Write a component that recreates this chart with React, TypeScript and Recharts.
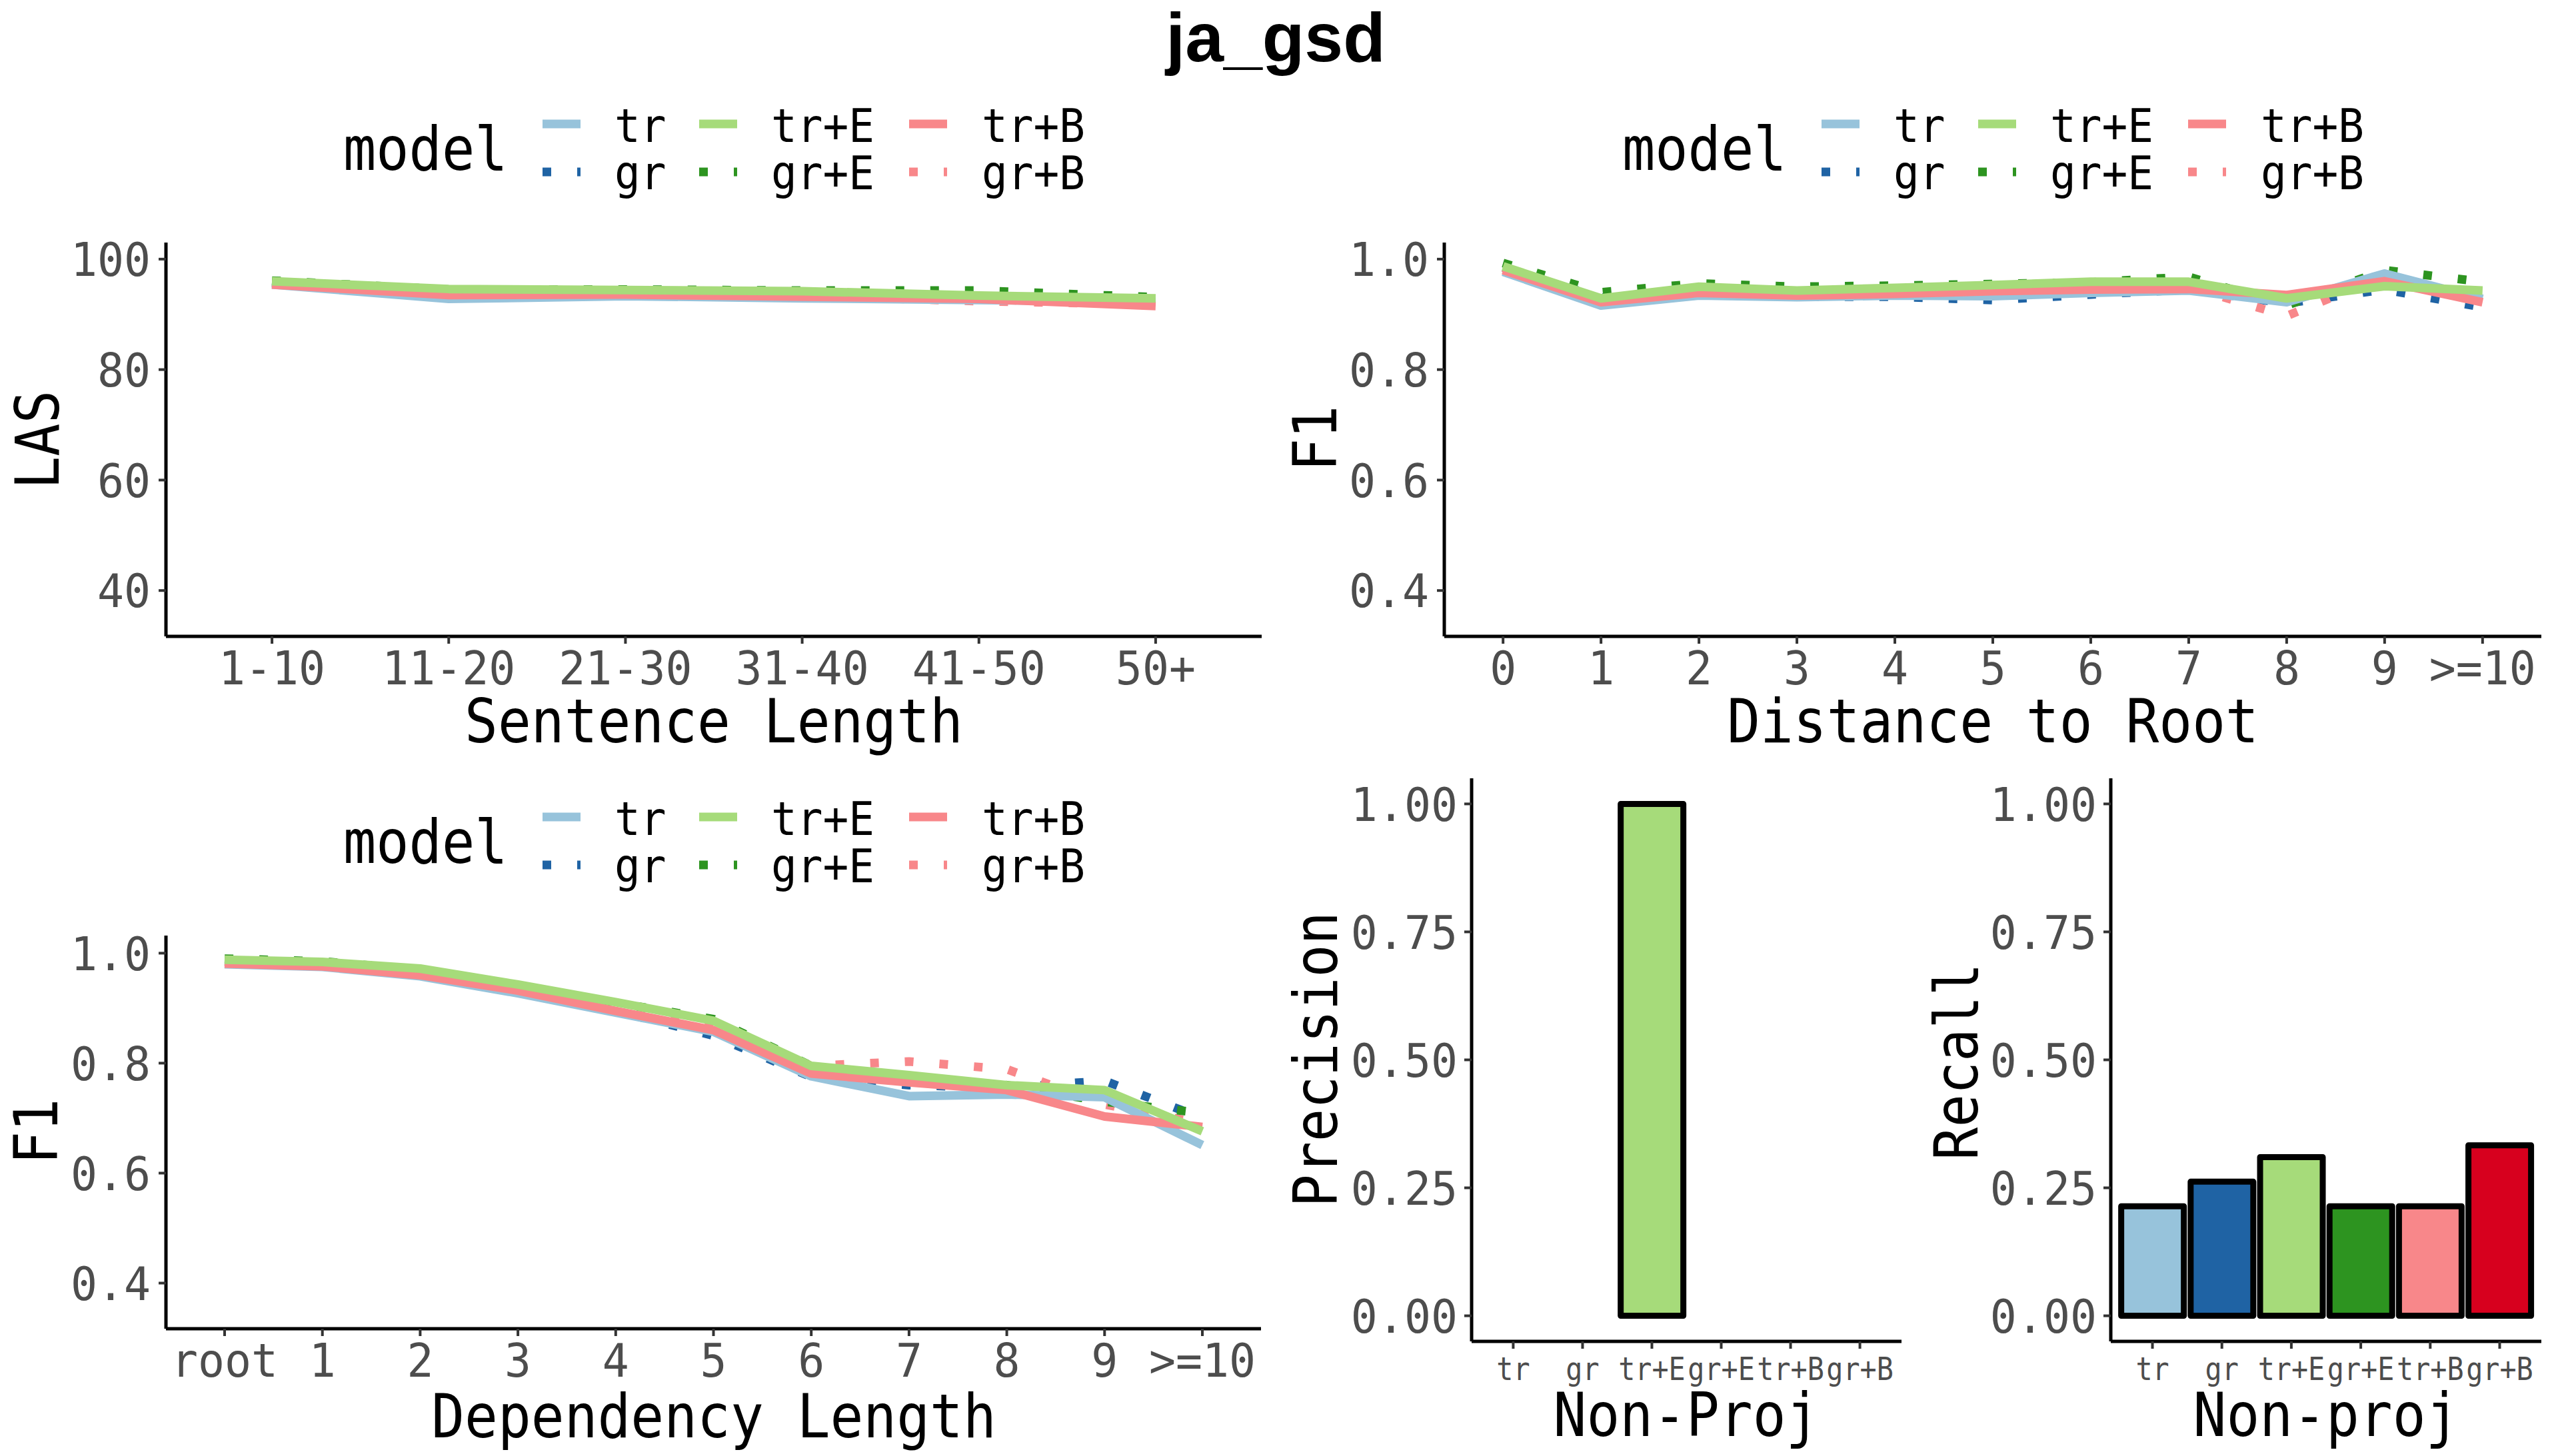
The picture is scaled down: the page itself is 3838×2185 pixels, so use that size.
import React from "react";
import { LineChart, Line, XAxis, YAxis, BarChart, Bar, Cell } from "recharts";

const MONO = "'DejaVu Sans Mono', monospace";

const models = ["tr", "gr", "tr+E", "gr+E", "tr+B", "gr+B"];
const lineColors = ["#97C3DB", "#1F63A4", "#A6DB7A", "#2D9420", "#F8878A", "#F8878A"];
const barColors = ["#97C3DB", "#1F63A4", "#A6DB7A", "#2D9420", "#F8878A", "#D7001E"];
const dotted = [false, true, false, true, false, true];
// groups are drawn alphabetically: gr, gr+B, gr+E, tr, tr+B, tr+E
const drawOrder = [1, 5, 3, 0, 4, 2];

// sentence length / LAS
const sentCats = ["1-10", "11-20", "21-30", "31-40", "41-50", "50+"];
const sentTr = [95.4, 92.8, 93.3, 92.9, 92.6, 92.3];
const sentGr = [95.8, 93.4, 93.6, 93.4, 93.0, 92.6];
const sentTrE = [96.0, 94.6, 94.4, 94.2, 93.4, 92.9];
const sentGrE = [96.1, 94.5, 94.5, 94.3, 94.3, 93.1];
const sentTrB = [95.4, 93.5, 93.6, 93.2, 92.8, 91.5];
const sentGrB = [95.6, 93.8, 93.8, 93.3, 92.4, 91.8];

// distance to root / F1
const rootCats = ["0", "1", "2", "3", "4", "5", "6", "7", "8", "9", ">=10"];
const rootTr = [0.977, 0.916, 0.934, 0.931, 0.934, 0.933, 0.939, 0.943, 0.922, 0.974, 0.928];
const rootGr = [0.985, 0.930, 0.940, 0.932, 0.932, 0.926, 0.936, 0.945, 0.920, 0.945, 0.913];
const rootTrE = [0.987, 0.929, 0.950, 0.943, 0.948, 0.953, 0.959, 0.959, 0.929, 0.951, 0.943];
const rootGrE = [0.993, 0.940, 0.956, 0.950, 0.952, 0.955, 0.958, 0.968, 0.916, 0.980, 0.959];
const rootTrB = [0.980, 0.922, 0.939, 0.934, 0.937, 0.942, 0.945, 0.946, 0.935, 0.960, 0.922];
const rootGrB = [0.985, 0.925, 0.945, 0.938, 0.940, 0.944, 0.946, 0.950, 0.897, 0.970, 0.925];

// dependency length / F1
const depCats = ["root", "1", "2", "3", "4", "5", "6", "7", "8", "9", ">=10"];
const depTr = [0.980, 0.975, 0.958, 0.927, 0.892, 0.857, 0.776, 0.740, 0.743, 0.738, 0.651];
const depGr = [0.985, 0.980, 0.962, 0.930, 0.895, 0.850, 0.775, 0.760, 0.755, 0.768, 0.700];
const depTrE = [0.988, 0.984, 0.972, 0.943, 0.911, 0.877, 0.795, 0.778, 0.760, 0.751, 0.676];
const depGrE = [0.990, 0.985, 0.970, 0.940, 0.910, 0.880, 0.795, 0.775, 0.760, 0.730, 0.709];
const depTrB = [0.981, 0.976, 0.960, 0.932, 0.895, 0.860, 0.781, 0.765, 0.751, 0.703, 0.684];
const depGrB = [0.985, 0.980, 0.965, 0.930, 0.893, 0.865, 0.795, 0.803, 0.789, 0.725, 0.690];

// non-projective arcs
const precision = [null, null, 1.0, null, null, null];
const recall = [0.214, 0.262, 0.31, 0.214, 0.214, 0.333];

const lasTicks = [40, 60, 80, 100];
const f1Ticks = [0.4, 0.6, 0.8, 1.0];
const barTicks = [0, 0.25, 0.5, 0.75, 1];

function rows(cats: string[], series: number[][]) {
  return cats.map((c, i) => {
    const r: any = { cat: c };
    series.forEach((s, j) => (r["s" + j] = s[i]));
    return r;
  });
}

function makeTick(size: number, sx: number, dy: string, anchor: string, fmt?: (v: any) => string) {
  return (props: any) => {
    const { x, y, payload } = props;
    return (
      <text
        transform={`translate(${x},${y}) scale(${sx},1)`}
        textAnchor={anchor}
        dy={dy}
        fontFamily={MONO}
        fontSize={size}
        fill="#4D4D4D"
      >
        {fmt ? fmt(payload.value) : payload.value}
      </text>
    );
  };
}

const axisLine = { stroke: "#000", strokeWidth: 5 };
const tickLine = { stroke: "#333", strokeWidth: 4 };

function LinePanel({ left, top, width, height, yw, cats, series, domain, ticks, fmt }: any) {
  const margin = { top: 64, right: 7, left: 0, bottom: 0 };
  const plotW = width - yw - margin.right;
  const step = plotW / (cats.length - 1 + 1.2);
  const pad = 0.6 * step;
  return (
    <div style={{ position: "absolute", left, top }}>
      <LineChart width={width} height={height} data={rows(cats, series)} margin={margin}>
        <XAxis
          dataKey="cat"
          height={100}
          interval={0}
          padding={{ left: pad, right: pad }}
          axisLine={axisLine}
          tickLine={tickLine}
          tickSize={11}
          tickMargin={10}
          tick={makeTick(70, 0.95, "0.73em", "middle")}
        />
        <YAxis
          type="number"
          width={yw}
          domain={domain}
          ticks={ticks}
          allowDataOverflow
          axisLine={axisLine}
          tickLine={tickLine}
          tickSize={11}
          tickMargin={12}
          tick={makeTick(70, 0.95, "0.36em", "end", fmt)}
        />
        {drawOrder.map((j) => (
          <Line
            key={j}
            dataKey={"s" + j}
            type="linear"
            stroke={lineColors[j]}
            strokeWidth={13}
            strokeDasharray={dotted[j] ? "13 39" : undefined}
            strokeLinecap="butt"
            strokeLinejoin="round"
            dot={false}
            activeDot={false}
            isAnimationActive={false}
          />
        ))}
      </LineChart>
    </div>
  );
}

function BarPanel({ left, top, width, yw, values }: any) {
  const margin = { top: 68, right: 7, left: 0, bottom: 0 };
  const plotW = width - yw - margin.right;
  const pad = plotW / 62;
  const data = models.map((m, i) => ({ model: m, v: values[i] }));
  return (
    <div style={{ position: "absolute", left, top }}>
      <BarChart width={width} height={993} data={data} margin={margin} barCategoryGap="5%">
        <XAxis
          dataKey="model"
          height={80}
          interval={0}
          padding={{ left: pad, right: pad }}
          axisLine={axisLine}
          tickLine={tickLine}
          tickSize={11}
          tickMargin={12}
          tick={makeTick(48, 0.87, "0.73em", "middle")}
        />
        <YAxis
          type="number"
          width={yw}
          domain={[-0.05, 1.05]}
          ticks={barTicks}
          allowDataOverflow
          axisLine={axisLine}
          tickLine={tickLine}
          tickSize={11}
          tickMargin={10}
          tick={makeTick(70, 0.95, "0.36em", "end", (v: number) => v.toFixed(2))}
        />
        <Bar dataKey="v" stroke="#000" strokeWidth={9} strokeLinejoin="round" isAnimationActive={false}>
          {data.map((d, i) => (
            <Cell key={d.model} fill={barColors[i]} />
          ))}
        </Bar>
      </BarChart>
    </div>
  );
}

function ModelLegend({ dx, dy }: { dx: number; dy: number }) {
  const keyX = [814, 1049, 1364];
  const labelX = [922, 1157, 1473];
  const keyY = [186, 258];
  const labelY = [213, 284];
  return (
    <g transform={`translate(${dx},${dy})`}>
      <text transform="translate(515,255) scale(0.9,1)" fontFamily={MONO} fontSize={91} fill="#000">
        model
      </text>
      {models.map((m, i) => {
        const col = Math.floor(i / 2);
        const row = i % 2;
        return (
          <g key={m}>
            <line
              x1={keyX[col]}
              x2={keyX[col] + 57}
              y1={keyY[row]}
              y2={keyY[row]}
              stroke={lineColors[i]}
              strokeWidth={13}
              strokeDasharray={dotted[i] ? "13 39" : undefined}
            />
            <text
              transform={`translate(${labelX[col]},${labelY[row]}) scale(0.92,1)`}
              fontFamily={MONO}
              fontSize={70}
              fill="#000"
            >
              {m}
            </text>
          </g>
        );
      })}
    </g>
  );
}

function XTitle({ x, y, text }: any) {
  return (
    <text transform={`translate(${x},${y}) scale(0.91,1)`} textAnchor="middle" fontFamily={MONO} fontSize={91} fill="#000">
      {text}
    </text>
  );
}

function YTitle({ x, y, text }: any) {
  return (
    <text
      transform={`translate(${x},${y}) rotate(-90) scale(0.9,1)`}
      textAnchor="middle"
      fontFamily={MONO}
      fontSize={91}
      fill="#000"
    >
      {text}
    </text>
  );
}

export default function App() {
  return (
    <div style={{ position: "absolute", left: 0, top: 0, width: 3838, height: 2185, background: "#fff", overflow: "hidden" }}>
      <LinePanel
        left={0}
        top={300}
        width={1900}
        height={755}
        yw={249}
        cats={sentCats}
        series={[sentTr, sentGr, sentTrE, sentGrE, sentTrB, sentGrB]}
        domain={[31.7, 103]}
        ticks={lasTicks}
      />
      <LinePanel
        left={1920}
        top={300}
        width={1900}
        height={755}
        yw={247}
        cats={rootCats}
        series={[rootTr, rootGr, rootTrE, rootGrE, rootTrB, rootGrB]}
        domain={[0.317, 1.03]}
        ticks={f1Ticks}
        fmt={(v: number) => v.toFixed(1)}
      />
      <LinePanel
        left={0}
        top={1340}
        width={1899}
        height={754}
        yw={249}
        cats={depCats}
        series={[depTr, depGr, depTrE, depGrE, depTrB, depGrB]}
        domain={[0.317, 1.032]}
        ticks={f1Ticks}
        fmt={(v: number) => v.toFixed(1)}
      />
      <BarPanel left={1920} top={1100} width={940} yw={288} values={precision} />
      <BarPanel left={2870} top={1100} width={950} yw={297} values={recall} />

      <svg
        width={3838}
        height={2185}
        style={{ position: "absolute", left: 0, top: 0, pointerEvents: "none" }}
      >
        <text x={1914} y={92} textAnchor="middle" fontFamily="'Liberation Sans', Arial, sans-serif" fontWeight="bold" fontSize={104}>
          ja_gsd
        </text>
        <ModelLegend dx={0} dy={0} />
        <ModelLegend dx={1919} dy={0} />
        <ModelLegend dx={0} dy={1040} />

        <XTitle x={1071} y={1114} text="Sentence Length" />
        <XTitle x={2990} y={1114} text="Distance to Root" />
        <XTitle x={1071} y={2157} text="Dependency Length" />
        <XTitle x={2530} y={2155} text="Non-Proj" />
        <XTitle x={3490} y={2155} text="Non-proj" />

        <YTitle x={88} y={660} text="LAS" />
        <YTitle x={2005} y={658} text="F1" />
        <YTitle x={86} y={1698} text="F1" />
        <YTitle x={2006} y={1590} text="Precision" />
        <YTitle x={2967} y={1593} text="Recall" />
      </svg>
    </div>
  );
}
